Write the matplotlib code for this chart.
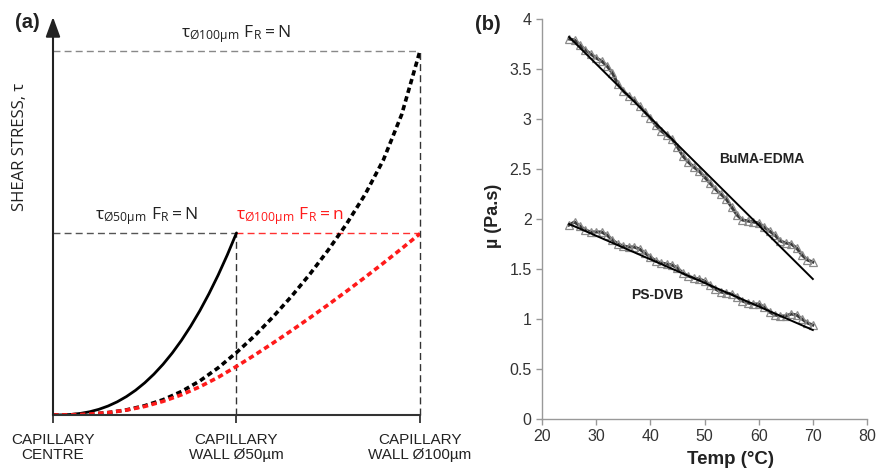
import matplotlib
matplotlib.use("Agg")
from matplotlib import pyplot as plt

# ---- panel (a): schematic shear stress profiles ----
r_50 = [0.0, 0.025, 0.05, 0.075, 0.1, 0.125, 0.15, 0.175, 0.2, 0.225, 0.25,
        0.275, 0.3, 0.325, 0.35, 0.375, 0.4, 0.425, 0.45, 0.475, 0.5]
tau_50_N = [0.0, 0.0003, 0.0016, 0.0044, 0.0089, 0.0156, 0.0246, 0.0362, 0.0506,
            0.0679, 0.0884, 0.1122, 0.1394, 0.1703, 0.205, 0.2436, 0.2862,
            0.3331, 0.3842, 0.4398, 0.5]

r_100 = [0.0, 0.05, 0.1, 0.15, 0.2, 0.25, 0.3, 0.35, 0.4, 0.45, 0.5,
         0.55, 0.6, 0.65, 0.7, 0.75, 0.8, 0.85, 0.9, 0.95, 1.0]
tau_100_N = [0.0, 0.0005, 0.0025, 0.0065, 0.014, 0.0255, 0.042, 0.0645, 0.0935,
             0.1295, 0.1715, 0.218, 0.27, 0.326, 0.387, 0.453, 0.525, 0.605,
             0.70, 0.825, 1.0]
tau_100_n = [0.0, 0.0005, 0.0025, 0.0065, 0.0135, 0.0235, 0.0375, 0.0555, 0.0775,
             0.1035, 0.1335, 0.165, 0.198, 0.232, 0.267, 0.303, 0.340, 0.378,
             0.417, 0.457, 0.498]

a_tick_pos = [0.0, 0.5, 1.0]
a_tick_labels = ["CAPILLARY\nCENTRE", "CAPILLARY\nWALL Ø50µm", "CAPILLARY\nWALL Ø100µm"]

# ---- panel (b): viscosity vs temperature ----
temp = list(range(25, 71))
buma_edma = [3.80, 3.79, 3.74, 3.69, 3.65, 3.61, 3.58, 3.53, 3.46, 3.35,
             3.28, 3.23, 3.19, 3.13, 3.07, 3.01, 2.94, 2.88, 2.84, 2.80,
             2.72, 2.63, 2.57, 2.52, 2.48, 2.42, 2.36, 2.30, 2.25, 2.20,
             2.12, 2.04, 1.99, 1.98, 1.97, 1.96, 1.92, 1.88, 1.84, 1.78,
             1.76, 1.75, 1.71, 1.64, 1.59, 1.57]
ps_dvb = [1.94, 1.97, 1.93, 1.89, 1.87, 1.87, 1.87, 1.84, 1.79, 1.75,
          1.73, 1.72, 1.72, 1.70, 1.66, 1.62, 1.58, 1.56, 1.55, 1.54,
          1.51, 1.46, 1.43, 1.41, 1.40, 1.38, 1.34, 1.30, 1.27, 1.26,
          1.25, 1.22, 1.18, 1.16, 1.15, 1.15, 1.12, 1.07, 1.04, 1.03,
          1.03, 1.05, 1.04, 1.00, 0.96, 0.94]
fit_temp = [25, 70]
buma_fit = [3.82, 1.40]
ps_fit = [1.95, 0.89]

plt.rcParams['mathtext.fontset'] = 'custom'
plt.rcParams['mathtext.rm'] = 'Open Sans'
plt.rcParams['mathtext.it'] = 'Open Sans:italic'
plt.rcParams['mathtext.bf'] = 'Open Sans:bold'

fig = plt.figure(figsize=(8.78, 4.72), dpi=100)

# ---------------- (a) ----------------
ax = fig.add_axes([53 / 878, 1 - 415 / 472, 367 / 878, 398 / 472])
ax.set_xlim(0, 1)
ax.set_ylim(0, 1.093)
for s in ('top', 'right', 'left'):
    ax.spines[s].set_visible(False)
ax.spines['bottom'].set_color('#333333')
ax.spines['bottom'].set_linewidth(1.5)
ax.set_yticks([])
ax.set_xticks(a_tick_pos)
ax.set_xticklabels(a_tick_labels, fontfamily='Liberation Sans', fontsize=11,
                   color='#222222', linespacing=1.1)
ax.tick_params(axis='x', direction='out', length=6, width=1.3, color='#333333', pad=7)

dash = (0, (5, 3))
ax.plot([0, 1], [1, 1], color='#888888', lw=1, ls=dash)
ax.plot([0, 0.5], [0.5, 0.5], color='#555555', lw=1, ls=dash)
ax.plot([0.5, 1], [0.5, 0.5], color='#ff3030', lw=1, ls=dash)
ax.plot([0.5, 0.5], [0, 0.5], color='#333333', lw=1, ls=dash)
ax.plot([1, 1], [0, 1], color='#333333', lw=1, ls=dash, clip_on=False)

ax.plot(r_50, tau_50_N, color='black', lw=2, solid_capstyle='round')
ax.plot(r_100, tau_100_N, color='black', lw=2.6, ls=(0, (1.5, 1.0)))
ax.plot(r_100, tau_100_n, color='#ff1a1a', lw=2.6, ls=(0, (1.5, 1.0)))

ax.annotate('', xy=(0, 1.093), xytext=(0, 0), annotation_clip=False,
            arrowprops=dict(arrowstyle='-|>,head_length=0.6,head_width=0.22',
                            lw=1.5, color='#222222', mutation_scale=20,
                            shrinkA=0, shrinkB=0))

ax.text(0.499, 1.047, r'$\mathrm{τ_{Ø100µm}\ F_R=N}$', ha='center', va='center',
        fontsize=12.5, color='#222222', clip_on=False)
ax.text(0.253, 0.547, r'$\mathrm{τ_{Ø50µm}\ F_R=N}$', ha='center', va='center',
        fontsize=12.5, color='#222222')
ax.text(0.646, 0.547, r'$\mathrm{τ_{Ø100µm}\ F_R=n}$', ha='center', va='center',
        fontsize=12.5, color='#ff1a1a')

fig.text(20 / 878, 1 - 147 / 472, 'SHEAR STRESS, τ', rotation=90, ha='center', va='center',
         fontfamily='Open Sans', fontsize=12, color='#222222')
fig.text(27 / 878, 1 - 23 / 472, '(a)', ha='center', va='center',
         fontfamily='Liberation Sans', fontweight='bold', fontsize=14.5, color='#222222')

# ---------------- (b) ----------------
bx = fig.add_axes([542 / 878, 1 - 419 / 472, 325 / 878, 400 / 472])
bx.set_xlim(20, 80)
bx.set_ylim(0, 4)
bx.set_xticks(range(20, 81, 10))
bx.set_yticks([0, 0.5, 1, 1.5, 2, 2.5, 3, 3.5, 4])
bx.set_yticklabels(['0', '0.5', '1', '1.5', '2', '2.5', '3', '3.5', '4'])
for s in ('top', 'right'):
    bx.spines[s].set_visible(False)
for s in ('left', 'bottom'):
    bx.spines[s].set_color('#999999')
    bx.spines[s].set_linewidth(1)
bx.tick_params(direction='out', length=4, width=1, color='#999999',
               labelsize=11.5, labelcolor='#333333')
for lab in bx.get_xticklabels() + bx.get_yticklabels():
    lab.set_fontfamily('Liberation Sans')

for series in (buma_edma, ps_dvb):
    bx.plot(temp, series, color='#3a3a3a', lw=2.2, marker='^', ms=5.5,
            mfc='none', mec='#8a8a8a', mew=0.9)
bx.plot(fit_temp, buma_fit, color='black', lw=1.4)
bx.plot(fit_temp, ps_fit, color='black', lw=1.4)

bx.text(60.6, 2.6, 'BuMA-EDMA', ha='center', va='center', fontfamily='Liberation Sans',
        fontweight='bold', fontsize=10, color='#222222')
bx.text(41.2, 1.24, 'PS-DVB', ha='center', va='center', fontfamily='Liberation Sans',
        fontweight='bold', fontsize=10, color='#222222')

fig.text(494 / 878, 1 - 216 / 472, 'µ (Pa.s)', rotation=90, ha='center', va='center',
         fontfamily='Liberation Sans', fontweight='bold', fontsize=13, color='#222222')
fig.text(731 / 878, 1 - 460 / 472, 'Temp (°C)', ha='center', va='center',
         fontfamily='Liberation Sans', fontweight='bold', fontsize=13.5, color='#222222')
fig.text(488 / 878, 1 - 24 / 472, '(b)', ha='center', va='center',
         fontfamily='Liberation Sans', fontweight='bold', fontsize=14.5, color='#222222')

fig.savefig('out.png', dpi=100)
